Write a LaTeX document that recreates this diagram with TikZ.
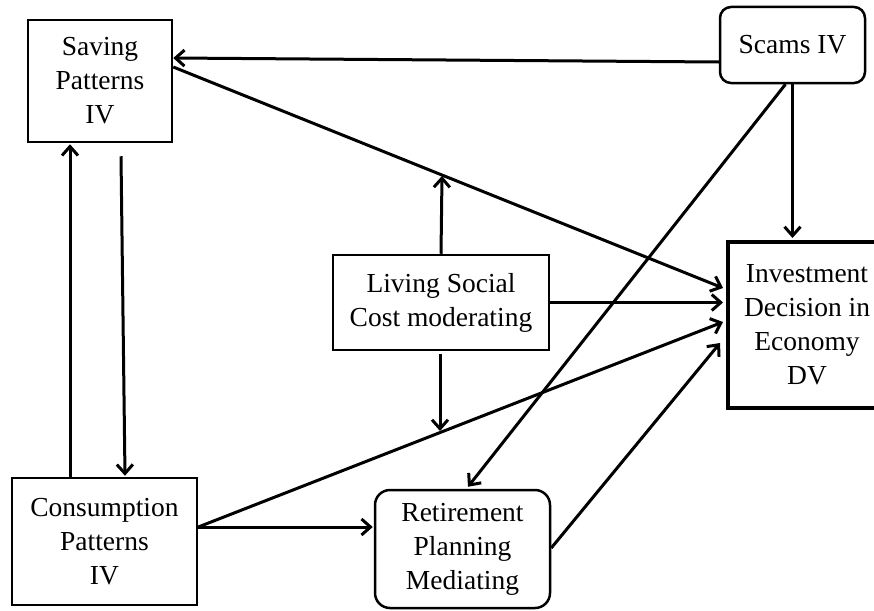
\documentclass[tikz,border=0pt]{standalone}
\usepackage{fontspec}
\setmainfont{Liberation Serif}
\usetikzlibrary{arrows.meta,calc}
\begin{document}
\begin{tikzpicture}[x=1pt,y=-1pt,
  box/.style={draw,line width=2.5pt,align=center,inner sep=0pt,
    font=\fontsize{27.5}{34}\selectfont},
  arr/.style={line width=3pt,-{Straight Barb[length=9pt,width=16pt,line width=3pt]}}]
\useasboundingbox (0,0) rectangle (874,610);
\node[box,minimum width=144pt,minimum height=122pt] (saving) at (100,81) {Saving\\Patterns\\IV};
\node[box,rounded corners=11pt,minimum width=145pt,minimum height=76pt] (scams) at (792.5,45) {Scams IV};
\node[box,minimum width=216pt,minimum height=95pt] (living) at (441,302.5) {Living Social\\Cost moderating};
\node[box,line width=4pt,minimum width=158pt,minimum height=166pt] (invest) at (807,325) {Investment\\Decision in\\Economy\\DV};
\node[box,minimum width=185pt,minimum height=127pt] (cons) at (104.5,541.5) {Consumption\\Patterns\\IV};
\node[box,rounded corners=15pt,minimum width=175pt,minimum height=118pt] (retire) at (462.5,549) {Retirement\\Planning\\Mediating};
\coordinate (up) at (442,176);
\coordinate (down) at (440,431);
\coordinate (cE) at ([yshift=14.5pt]cons.east);
% connectors
\draw[arr] ([yshift=-17pt]scams.west) -- ([yshift=23pt]saving.east);
\draw[arr] ([yshift=14pt]saving.east) -- ([yshift=37pt,xshift=-3pt]invest.west);
\draw[arr] (scams.south) -- ([yshift=2pt]scams.south |- invest.north);
\draw[arr] ([xshift=-7pt]scams.south) -- ([xshift=5.5pt,yshift=2pt]retire.north);
\draw[arr] (living.east) -- ([xshift=-3pt]invest.west |- living.east);
\draw[arr] (cE) -- ([yshift=3pt,xshift=-3pt]invest.west);
\draw[arr] ([yshift=1pt]retire.east) -- ([yshift=-18pt,xshift=-6pt]invest.west);
\draw[arr] (cE) -- ([xshift=-1pt]cE -| retire.west);
\draw[arr] ([xshift=-34.5pt]cons.north) -- ([xshift=-34.5pt,yshift=-1pt]cons.north |- saving.south);
\draw[arr] ([xshift=21pt,yshift=-13pt]saving.south) -- ([xshift=20.5pt,yshift=1pt]cons.north);
\draw[arr] (living.north) -- (up);
\draw[arr] ([xshift=-1pt,yshift=-3pt]living.south) -- (down);
\end{tikzpicture}
\end{document}
